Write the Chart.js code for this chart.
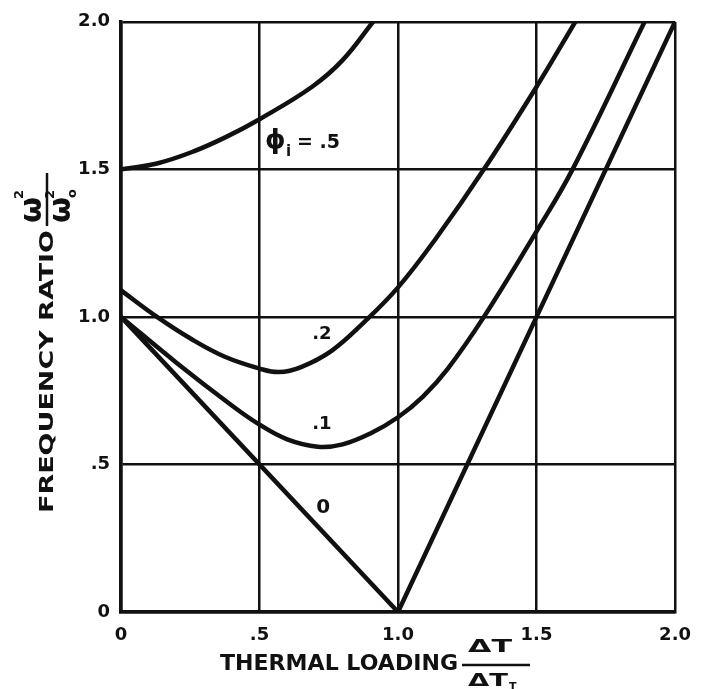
<!DOCTYPE html>
<html>
<head>
<meta charset="utf-8">
<script src="https://cdn.jsdelivr.net/npm/chart.js@4.4.0/dist/chart.umd.min.js"></script>
<style>
  body { margin: 0; background: #fff; }
  #wrap { width: 704px; height: 689px; }
</style>
</head>
<body>
<div id="wrap"><canvas id="chart"></canvas></div>
<script>
// ticks
const xTicks = [0, 0.5, 1.0, 1.5, 2.0];
const xTickLabels = ['0', '.5', '1.0', '1.5', '2.0'];
const yTicks = [0, 0.5, 1.0, 1.5, 2.0];
const yTickLabels = ['0', '.5', '1.0', '1.5', '2.0'];

// frequency ratio vs thermal loading, one curve per phi_i
const phi0X = [0, 1.0, 2.0];
const phi0Y = [1.0, 0, 2.0];
const phi1X = [0, 0.2, 0.4, 0.5, 0.6, 0.71, 0.8, 0.9, 1.0, 1.09, 1.18, 1.31, 1.5, 1.63, 1.89];
const phi1Y = [1.0, 0.845, 0.70, 0.635, 0.585, 0.56, 0.568, 0.605, 0.66, 0.73, 0.825, 1.0, 1.29, 1.5, 2.0];
const phi2X = [0, 0.13, 0.254, 0.375, 0.5, 0.57, 0.65, 0.76, 0.875, 1.0, 1.14, 1.31, 1.5, 1.64];
const phi2Y = [1.09, 1.0, 0.925, 0.865, 0.825, 0.813, 0.83, 0.885, 0.98, 1.10, 1.27, 1.5, 1.78, 2.0];
const phi5X = [0, 0.13, 0.26, 0.38, 0.5, 0.69, 0.8, 0.91];
const phi5Y = [1.5, 1.52, 1.56, 1.61, 1.67, 1.78, 1.87, 2.0];

const curveNames = ['0', '.1', '.2', '.5'];

const INK = '#111';
const FONT = '"DejaVu Sans", sans-serif';

const pts = (xs, ys) => xs.map((x, i) => ({ x: x, y: ys[i] }));

const curve = (label, xs, ys, straight) => ({
  label: label,
  data: pts(xs, ys),
  borderColor: INK,
  borderWidth: 4.5,
  pointRadius: 0,
  fill: false,
  tension: straight ? 0 : 0.4,
  borderCapStyle: 'round',
  borderJoinStyle: 'round',
});

// draw text stretched to a given width (the lettering is wide)
function wideText(ctx, text, x, y, width) {
  const w = ctx.measureText(text).width;
  ctx.save();
  ctx.translate(x, y);
  ctx.scale(width / w, 1);
  ctx.fillText(text, 0, 0);
  ctx.restore();
}

const labelsPlugin = {
  id: 'labels',
  afterDraw(chart) {
    const ctx = chart.ctx;
    const sx = chart.scales.x, sy = chart.scales.y;
    const area = chart.chartArea;
    ctx.save();
    ctx.fillStyle = INK;
    ctx.strokeStyle = INK;
    ctx.textBaseline = 'middle';
    ctx.textAlign = 'left';

    // x title: THERMAL LOADING  dT / dT_T
    const ty = area.bottom + 53;
    ctx.font = 'bold 21px ' + FONT;
    wideText(ctx, 'THERMAL LOADING', 220, ty, 238);
    ctx.lineWidth = 2.5;
    ctx.beginPath();
    ctx.moveTo(462, ty);
    ctx.lineTo(530, ty);
    ctx.stroke();
    ctx.font = 'bold 17px ' + FONT;
    wideText(ctx, 'ΔT', 468, ty - 17, 44);
    wideText(ctx, 'ΔT', 468, ty + 17, 40);
    ctx.font = 'bold 11px ' + FONT;
    ctx.fillText('T', 509, ty + 22);

    // y title, rotated: FREQUENCY RATIO  w^2 / w_o^2
    ctx.save();
    ctx.translate(48, 513);
    ctx.rotate(-Math.PI / 2);
    ctx.font = 'bold 20px ' + FONT;
    wideText(ctx, 'FREQUENCY RATIO', 0, 0, 283);
    ctx.lineWidth = 2.5;
    ctx.beginPath();
    ctx.moveTo(287, -1);
    ctx.lineTo(340, -1);
    ctx.stroke();
    ctx.font = 'bold 30px ' + FONT;
    ctx.fillText('ω', 290, -15);
    ctx.fillText('ω', 290, 14);
    ctx.font = 'bold 13px ' + FONT;
    ctx.fillText('2', 314, -28);
    ctx.fillText('2', 314, 3);
    ctx.fillText('o', 315, 25);
    ctx.restore();

    // curve labels
    ctx.font = 'bold 26px ' + FONT;
    const px = sx.getPixelForValue(0.52), py = sy.getPixelForValue(1.59);
    ctx.fillText('ϕ', px, py - 2);
    ctx.font = 'bold 15px ' + FONT;
    ctx.fillText('i', px + 21, py + 9);
    ctx.font = 'bold 19px ' + FONT;
    ctx.fillText('= .5', px + 32, py);

    ctx.textAlign = 'center';
    ctx.font = 'bold 18px ' + FONT;
    ctx.fillText(curveNames[2], sx.getPixelForValue(0.725), sy.getPixelForValue(0.94));
    ctx.fillText(curveNames[1], sx.getPixelForValue(0.725), sy.getPixelForValue(0.636));
    ctx.font = 'bold 20px ' + FONT;
    ctx.fillText(curveNames[0], sx.getPixelForValue(0.73), sy.getPixelForValue(0.354));
    ctx.restore();
  }
};

const axisGrid = {
  color: INK,
  lineWidth: 2.5,
  drawTicks: false,
};

new Chart(document.getElementById('chart'), {
  type: 'line',
  data: {
    datasets: [
      curve(curveNames[0], phi0X, phi0Y, true),
      curve(curveNames[1], phi1X, phi1Y, false),
      curve(curveNames[2], phi2X, phi2Y, false),
      curve(curveNames[3], phi5X, phi5Y, false),
    ]
  },
  options: {
    responsive: true,
    maintainAspectRatio: false,
    animation: false,
    layout: { padding: { left: 0, right: 18, top: 19, bottom: 0 } },
    plugins: {
      legend: { display: false },
      tooltip: { enabled: false },
    },
    scales: {
      x: {
        type: 'linear',
        min: 0,
        max: 2,
        grid: axisGrid,
        border: { color: INK, width: 3.5 },
        afterBuildTicks: (scale) => { scale.ticks = xTicks.map(v => ({ value: v })); },
        afterFit: (scale) => { scale.height = 77; },
        ticks: {
          padding: 13,
          color: INK,
          font: { family: FONT, size: 18, weight: 'bold' },
          callback: (v) => xTickLabels[xTicks.indexOf(v)],
        },
      },
      y: {
        type: 'linear',
        min: 0,
        max: 2,
        grid: axisGrid,
        border: { color: INK, width: 3.5 },
        afterBuildTicks: (scale) => { scale.ticks = yTicks.map(v => ({ value: v })); },
        afterFit: (scale) => { scale.width = 121; },
        ticks: {
          padding: 11,
          color: INK,
          font: { family: FONT, size: 18, weight: 'bold' },
          callback: (v) => yTickLabels[yTicks.indexOf(v)],
        },
      },
    },
  },
  plugins: [labelsPlugin],
});
</script>
</body>
</html>
